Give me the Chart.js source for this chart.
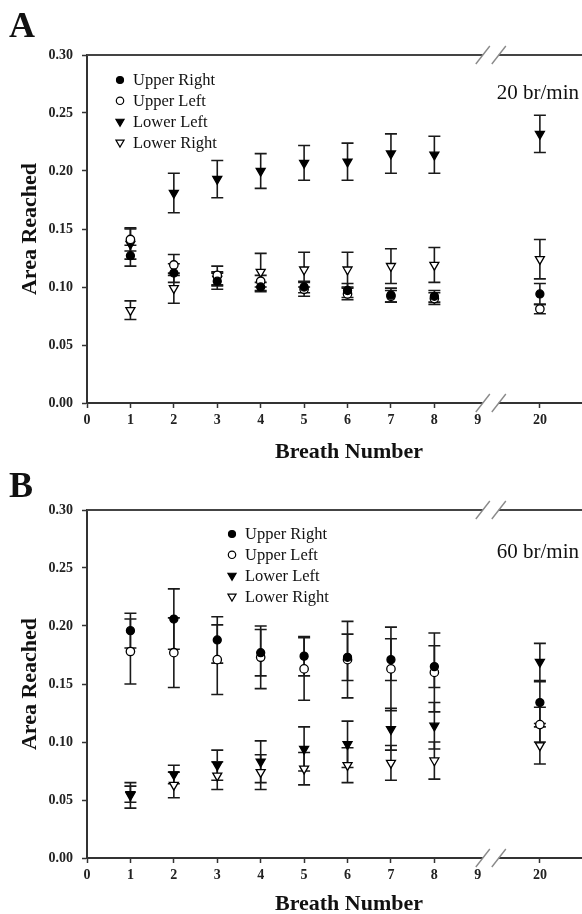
<!DOCTYPE html>
<html>
<head>
<meta charset="utf-8">
<script src="https://cdn.jsdelivr.net/npm/chart.js@4.4.0/dist/chart.umd.min.js"></script>
<style>
  html, body { margin: 0; padding: 0; background: #fff; overflow: hidden; }
  .panel { position: relative; width: 582px; }
  #panelA { height: 466px; }
  #panelB { height: 448px; }
</style>
</head>
<body>
<div class="panel" id="panelA"><canvas id="chartA"></canvas></div>
<div class="panel" id="panelB"><canvas id="chartB"></canvas></div>
<script>
// breath numbers (x) and y axis ticks
const breaths = [1, 2, 3, 4, 5, 6, 7, 8, 20];
const xTickLabels = ['0', '1', '2', '3', '4', '5', '6', '7', '8', '9', '20'];
const yTicks = [0, 0.05, 0.10, 0.15, 0.20, 0.25, 0.30];

// panel A : 20 br/min  (mean, +/- error)
const aUpperRight    = [0.127, 0.112, 0.105, 0.100, 0.100, 0.097, 0.093, 0.092, 0.094];
const aUpperRightErr = [0.009, 0.008, 0.007, 0.004, 0.005, 0.006, 0.006, 0.005, 0.009];
const aUpperLeft     = [0.141, 0.119, 0.110, 0.105, 0.098, 0.094, 0.092, 0.090, 0.081];
const aUpperLeftErr  = [0.010, 0.009, 0.008, 0.005, 0.006, 0.005, 0.005, 0.005, 0.004];
const aLowerLeft     = [0.137, 0.181, 0.193, 0.200, 0.207, 0.208, 0.215, 0.214, 0.232];
const aLowerLeftErr  = [0.013, 0.017, 0.016, 0.015, 0.015, 0.016, 0.017, 0.016, 0.016];
const aLowerRight    = [0.080, 0.099, 0.107, 0.113, 0.115, 0.115, 0.118, 0.119, 0.124];
const aLowerRightErr = [0.008, 0.013, 0.006, 0.016, 0.015, 0.015, 0.015, 0.015, 0.017];

// panel B : 60 br/min
const bUpperRight    = [0.196, 0.206, 0.188, 0.177, 0.174, 0.173, 0.171, 0.165, 0.134];
const bUpperRightErr = [0.015, 0.026, 0.020, 0.020, 0.017, 0.020, 0.018, 0.018, 0.018];
const bUpperLeft     = [0.178, 0.177, 0.171, 0.173, 0.163, 0.171, 0.163, 0.160, 0.115];
const bUpperLeftErr  = [0.028, 0.030, 0.030, 0.027, 0.027, 0.033, 0.036, 0.034, 0.015];
const bLowerLeft     = [0.055, 0.072, 0.080, 0.083, 0.094, 0.098, 0.111, 0.114, 0.169];
const bLowerLeftErr  = [0.007, 0.008, 0.013, 0.018, 0.019, 0.020, 0.018, 0.020, 0.016];
const bLowerRight    = [0.054, 0.063, 0.071, 0.074, 0.077, 0.080, 0.082, 0.084, 0.097];
const bLowerRightErr = [0.011, 0.011, 0.012, 0.015, 0.014, 0.015, 0.015, 0.016, 0.016];

// broken x axis: 0..9 linear, then 20 placed after the break
const AFTER_BREAK = 10.43;
const BREAK_AT = 9.3;
function axisPos(n) { return n <= 9 ? n : AFTER_BREAK + (n - 20); }
const axisTickValues = [0, 1, 2, 3, 4, 5, 6, 7, 8, 9, AFTER_BREAK];

const SERIF = '"Liberation Serif", "DejaVu Serif", serif';

const seriesStyles = [
  { label: 'Upper Right', style: 'circle',   radius: 4,   rotation: 0,   fill: '#000' },
  { label: 'Upper Left',  style: 'circle',   radius: 4.2, rotation: 0,   fill: '#fff' },
  { label: 'Lower Left',  style: 'triangle', radius: 5.2, rotation: 180, fill: '#000' },
  { label: 'Lower Right', style: 'triangle', radius: 5.2, rotation: 180, fill: '#fff' }
];

function makeDatasets(series) {
  return series.map((s, k) => ({
    label: seriesStyles[k].label,
    data: breaths.map((b, i) => ({ x: axisPos(b), y: s.values[i] })),
    errors: s.errors,
    pointStyle: seriesStyles[k].style,
    rotation: seriesStyles[k].rotation,
    pointRadius: seriesStyles[k].radius,
    pointBackgroundColor: seriesStyles[k].fill,
    pointBorderColor: '#000',
    pointBorderWidth: 1.3,
    showLine: false
  }));
}

// vertical error bars with caps
const errorBars = {
  id: 'errorBars',
  beforeDatasetsDraw(chart) {
    const ctx = chart.ctx, xs = chart.scales.x, ys = chart.scales.y;
    ctx.save();
    ctx.strokeStyle = '#1a1a1a';
    ctx.lineWidth = 1.6;
    chart.data.datasets.forEach(ds => {
      ds.data.forEach((p, i) => {
        const e = ds.errors[i];
        const x = xs.getPixelForValue(p.x);
        const top = ys.getPixelForValue(p.y + e);
        const bot = ys.getPixelForValue(p.y - e);
        ctx.beginPath();
        ctx.moveTo(x, top); ctx.lineTo(x, bot);
        ctx.moveTo(x - 6, top); ctx.lineTo(x + 6, top);
        ctx.moveTo(x - 6, bot); ctx.lineTo(x + 6, bot);
        ctx.stroke();
      });
    });
    ctx.restore();
  }
};

function drawBreak(ctx, cx, y) {
  ctx.save();
  ctx.fillStyle = '#fff';
  ctx.fillRect(cx - 8, y - 3, 16, 6);
  ctx.strokeStyle = '#8a8a8a';
  ctx.lineWidth = 1.4;
  [-8, 8].forEach(dx => {
    ctx.beginPath();
    ctx.moveTo(cx + dx - 7, y + 9);
    ctx.lineTo(cx + dx + 7, y - 9);
    ctx.stroke();
  });
  ctx.restore();
}

// frame top line, axis breaks, panel letter, legend, titles
const decorations = {
  id: 'decorations',
  afterDraw(chart, args, opts) {
    const ctx = chart.ctx, area = chart.chartArea, xs = chart.scales.x;
    ctx.save();
    ctx.strokeStyle = '#444';
    ctx.lineWidth = 2;
    ctx.beginPath();
    ctx.moveTo(area.left, area.top);
    ctx.lineTo(area.right, area.top);
    ctx.stroke();
    const bx = xs.getPixelForValue(BREAK_AT);
    drawBreak(ctx, bx, area.top);
    drawBreak(ctx, bx, area.bottom);

    ctx.fillStyle = '#111';
    ctx.textBaseline = 'alphabetic';
    ctx.font = 'bold 36px ' + SERIF;
    ctx.fillText(opts.letter, 9, opts.letterY);

    ctx.font = '21px ' + SERIF;
    ctx.textAlign = 'right';
    ctx.fillText(opts.rate, 579, opts.rateY);

    ctx.textAlign = 'left';
    ctx.textBaseline = 'middle';
    ctx.font = '16.5px ' + SERIF;
    seriesStyles.forEach((s, i) => {
      const y = opts.legendY + i * 20.8;
      ctx.fillStyle = s.fill;
      ctx.strokeStyle = '#000';
      ctx.lineWidth = 1.2;
      Chart.helpers.drawPoint(ctx, { pointStyle: s.style, radius: s.radius - 0.5, rotation: s.rotation, borderWidth: 1.2 }, opts.legendX, y);
      ctx.fillStyle = '#111';
      ctx.fillText(s.label, opts.legendX + 13, y + 1);
    });

    ctx.font = 'bold 22px ' + SERIF;
    ctx.textAlign = 'center';
    ctx.fillText('Breath Number', 349, area.bottom + opts.xTitleOffset);
    ctx.translate(30, (area.top + area.bottom) / 2);
    ctx.rotate(-Math.PI / 2);
    ctx.fillText('Area Reached', 0, 0);
    ctx.restore();
  }
};

function makeChart(id, series, deco, padTop, xHeight) {
  const ctx = document.getElementById(id).getContext('2d');
  return new Chart(ctx, {
    type: 'scatter',
    data: { datasets: makeDatasets(series) },
    options: {
      responsive: true,
      maintainAspectRatio: false,
      animation: false,
      layout: { autoPadding: false, padding: { top: padTop, right: 0, left: 0, bottom: 0 } },
      scales: {
        x: {
          type: 'linear',
          min: 0,
          max: 11.4,
          afterFit(scale) { scale.height = xHeight; scale.paddingRight = 0; },
          afterBuildTicks(scale) { scale.ticks = axisTickValues.map(v => ({ value: v })); },
          grid: {
            drawOnChartArea: false,
            tickLength: 5,
            tickColor: c => (c.tick && c.tick.value === 9) ? 'rgba(0,0,0,0)' : '#333',
            tickWidth: 1.5
          },
          border: { display: true, color: '#333', width: 2 },
          ticks: {
            padding: 4,
            color: '#222',
            font: { family: SERIF, size: 14, weight: 'bold' },
            callback: (v, i) => xTickLabels[i]
          }
        },
        y: {
          min: 0,
          max: 0.3,
          afterFit(scale) { scale.width = 87; },
          afterBuildTicks(scale) { scale.ticks = yTicks.map(v => ({ value: v })); },
          grid: { drawOnChartArea: false, tickLength: 5, tickColor: '#333', tickWidth: 1.5 },
          border: { display: true, color: '#333', width: 2 },
          ticks: {
            padding: 9,
            color: '#222',
            font: { family: SERIF, size: 14, weight: 'bold' },
            callback: v => Number(v).toFixed(2)
          }
        }
      },
      plugins: {
        legend: { display: false },
        tooltip: { enabled: false },
        decorations: deco
      }
    },
    plugins: [errorBars, decorations]
  });
}

makeChart('chartA', [
  { values: aUpperRight, errors: aUpperRightErr },
  { values: aUpperLeft, errors: aUpperLeftErr },
  { values: aLowerLeft, errors: aLowerLeftErr },
  { values: aLowerRight, errors: aLowerRightErr }
], { letter: 'A', letterY: 37, rate: '20 br/min', rateY: 99, legendX: 120, legendY: 80, xTitleOffset: 49 }, 55, 63);

makeChart('chartB', [
  { values: bUpperRight, errors: bUpperRightErr },
  { values: bUpperLeft, errors: bUpperLeftErr },
  { values: bLowerLeft, errors: bLowerLeftErr },
  { values: bLowerRight, errors: bLowerRightErr }
], { letter: 'B', letterY: 31, rate: '60 br/min', rateY: 92, legendX: 232, legendY: 68, xTitleOffset: 46 }, 44, 56);
</script>
</body>
</html>
